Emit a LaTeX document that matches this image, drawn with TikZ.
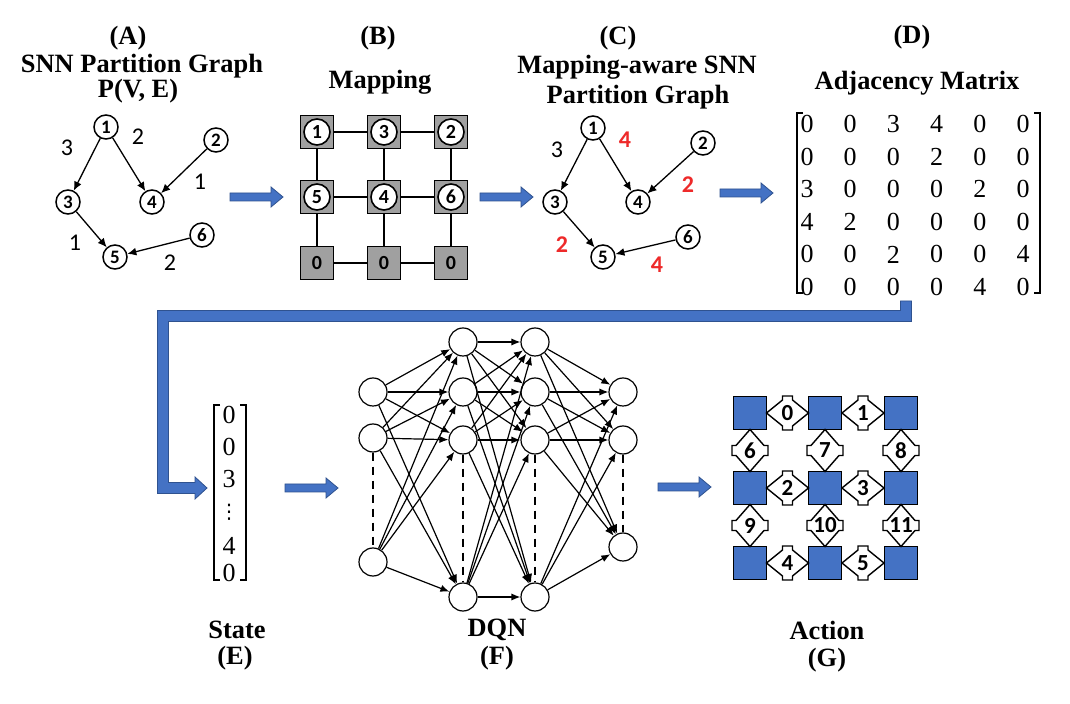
\documentclass[tikz,border=0pt]{standalone}
\usepackage{fontspec}
\setmainfont{Liberation Serif}
\newfontfamily\calib{Carlito}
\newfontfamily\djv{DejaVu Sans}
\usetikzlibrary{arrows.meta}
\definecolor{pblue}{HTML}{4472C4}
\definecolor{pblueD}{HTML}{2F528F}
\definecolor{gsq}{HTML}{A0A0A0}
\definecolor{rlabc}{HTML}{EE2A2A}
\begin{document}
\begin{tikzpicture}[x=0.5pt,y=-0.5pt,
  title/.style={font=\fontsize{13.2}{15}\selectfont\bfseries, inner sep=0},
  gnode/.style={circle,draw,line width=0.75pt,minimum size=12pt,inner sep=0,fill=white,font=\calib\bfseries\fontsize{9.5}{10}\selectfont},
  gedge/.style={-{Latex[length=4.5pt,width=4pt]},line width=0.65pt},
  elab/.style={font=\calib\fontsize{12}{12}\selectfont,inner sep=0},
  rlab/.style={font=\calib\bfseries\fontsize{12}{12}\selectfont,text=rlabc,inner sep=0},
  bsq/.style={rectangle,draw,fill=gsq,line width=0.8pt,minimum size=16.5pt,inner sep=0,font=\calib\bfseries\fontsize{10}{10}\selectfont},
  bcirc/.style={circle,draw,fill=white,line width=0.8pt,minimum size=13pt,inner sep=0,font=\calib\bfseries\fontsize{10}{10}\selectfont},
  blink/.style={line width=1.3pt},
  mnum/.style={font=\fontsize{13}{13}\selectfont,inner sep=0},
  brk/.style={line width=0.7pt},
  nn/.style={circle,draw,line width=0.6pt,minimum size=14pt,inner sep=0,fill=white},
  nnedge/.style={-{Latex[length=4.5pt,width=3.6pt]},line width=0.6pt},
  nndash/.style={line width=0.7pt,dash pattern=on 4pt off 3pt},
  gsqb/.style={rectangle,draw,fill=pblue,line width=0.8pt,minimum size=16.5pt,inner sep=0},
  dlab/.style={font=\calib\bfseries\fontsize{11.5}{11.5}\selectfont,inner sep=0},
  barrow/.pic={\fill[pblue,draw=pblueD,line width=0.4pt] (0,-4) -- (41,-4) -- (41,-10) -- (53,0) -- (41,10) -- (41,4) -- (0,4) -- cycle;},
  hdia/.pic={\draw[fill=white,line width=0.7pt] (-21,0) -- (-5,-13) -- (-5,-17) -- (5,-17) -- (5,-13) -- (21,0) -- (5,13) -- (5,17) -- (-5,17) -- (-5,13) -- cycle;},
  vdia/.pic={\draw[fill=white,line width=0.7pt] (0,-21) -- (-14,-5) -- (-18,-5) -- (-18,5) -- (-14,5) -- (0,21) -- (14,5) -- (18,5) -- (18,-5) -- (14,-5) -- cycle;}
]
\useasboundingbox (0,0) rectangle (1070,704);
\fill[white] (0,0) rectangle (1070,704);

% ---------- titles ----------
\node[title] (tA) at (128,38) {(A)};
\node[title] (tA1) at (142,66) {SNN Partition Graph};
\node[title] (tA2) at (138,91) {P(V, E)};
\node[title] (tB) at (378,38) {(B)};
\node[title] (tB1) at (380,82) {Mapping};
\node[title] (tC) at (618,38) {(C)};
\node[title] (tC1) at (637,67) {Mapping-aware SNN};
\node[title] (tC2) at (638,97) {Partition Graph};
\node[title] (tD) at (912,37) {(D)};
\node[title] (tD1) at (917,83) {Adjacency Matrix};
\node[title] (tE1) at (237,630) {State};
\node[title] (tE) at (235,658) {(E)};
\node[title] (tF1) at (497,630) {DQN};
\node[title] (tF) at (497,658) {(F)};
\node[title] (tG1) at (827,630) {Action};
\node[title] (tG) at (827,660) {(G)};

% ---------- (A) graph ----------
\node[gnode] (A1) at (106,127) {1};
\node[gnode] (A2) at (216,140) {2};
\node[gnode] (A3) at (68,202) {3};
\node[gnode] (A4) at (152,202) {4};
\node[gnode] (A5) at (115,257) {5};
\node[gnode] (A6) at (202,235) {6};
\draw[gedge] (A1) -- (A3);
\draw[gedge] (A1) -- (A4);
\draw[gedge] (A2) -- (A4);
\draw[gedge] (A3) -- (A5);
\draw[gedge] (A6) -- (A5);
\node[elab] (la1) at (67,148) {3};
\node[elab] (la2) at (138,137) {2};
\node[elab] (la3) at (200,182) {1};
\node[elab] (la4) at (75,243) {1};
\node[elab] (la5) at (170,263) {2};

% ---------- (B) mapping ----------
\foreach \c/\x in {0/317,1/384,2/451}
  \foreach \r/\y in {0/132,1/197,2/263}
    \node[bsq] (b\c\r) at (\x,\y) {};
\foreach \r in {0,1,2}{
  \draw[blink] (b0\r) -- (b1\r);
  \draw[blink] (b1\r) -- (b2\r);}
\foreach \c in {0,1,2}{
  \draw[blink] (b\c0) -- (b\c1);
  \draw[blink] (b\c1) -- (b\c2);}
\node[bcirc] (bc1) at (b00) {1};
\node[bcirc] (bc3) at (b10) {3};
\node[bcirc] (bc2) at (b20) {2};
\node[bcirc] (bc5) at (b01) {5};
\node[bcirc] (bc4) at (b11) {4};
\node[bcirc] (bc6) at (b21) {6};
\node[inner sep=0,font=\calib\bfseries\fontsize{10}{10}\selectfont] (bz0) at (b02) {0};
\node[inner sep=0,font=\calib\bfseries\fontsize{10}{10}\selectfont] (bz1) at (b12) {0};
\node[inner sep=0,font=\calib\bfseries\fontsize{10}{10}\selectfont] (bz2) at (b22) {0};

% ---------- (C) graph ----------
\node[gnode] (C1) at (593,128) {1};
\node[gnode] (C2) at (703,143) {2};
\node[gnode] (C3) at (555,202) {3};
\node[gnode] (C4) at (638,202) {4};
\node[gnode] (C5) at (603,257) {5};
\node[gnode] (C6) at (688,237) {6};
\draw[gedge] (C1) -- (C3);
\draw[gedge] (C1) -- (C4);
\draw[gedge] (C2) -- (C4);
\draw[gedge] (C3) -- (C5);
\draw[gedge] (C6) -- (C5);
\node[elab] (lc1) at (557,150) {3};
\node[rlab] (lc2) at (625,140) {4};
\node[rlab] (lc3) at (688,185) {2};
\node[rlab] (lc4) at (562,245) {2};
\node[rlab] (lc5) at (657,265) {4};

% ---------- (D) matrix ----------
\foreach \row [count=\i] in {{0,0,3,4,0,0},{0,0,0,2,0,0},{3,0,0,0,2,0},{4,2,0,0,0,0},{0,0,2,0,0,4},{0,0,0,0,4,0}}
  \foreach \v [count=\j] in \row
    \node[mnum] (m\i\j) at ({763.8+43.2*\j},{124+32.6*(\i-1)}) {\v};
\draw[brk] (803,113) -- (797,113) -- (797,293) -- (803,293);
\draw[brk] (1034,113) -- (1040,113) -- (1040,293) -- (1034,293);

% ---------- block arrows ----------
\pic at (230,197) {barrow};
\pic at (480,197) {barrow};
\pic at (720,193) {barrow};
\pic at (285,488) {barrow};
\pic at (658,487) {barrow};

% ---------- L connector ----------
\fill[pblue,draw=pblueD,line width=0.4pt] (900.5,301) -- (911.5,301) -- (911.5,321.5) -- (168.5,321.5) -- (168.5,482.5) -- (195,482.5) -- (195,477) -- (207,488) -- (195,499) -- (195,493.5) -- (157.5,493.5) -- (157.5,310.5) -- (900.5,310.5) -- cycle;

% ---------- (E) state ----------
\node[mnum] (s1) at (229,415) {0};
\node[mnum] (s2) at (229,447) {0};
\node[mnum] (s3) at (229,479) {3};
\node[inner sep=0,font=\djv\fontsize{10}{10}\selectfont] (s4) at (229,512) {⋮};
\node[mnum] (s5) at (229,546) {4};
\node[mnum] (s6) at (229,573) {0};
\draw[brk] (220,405) -- (214,405) -- (214,580) -- (220,580);
\draw[brk] (240,405) -- (246,405) -- (246,580) -- (240,580);

% ---------- (F) DQN ----------
\node[nn] (i1) at (373,392) {};
\node[nn] (i2) at (373,438) {};
\node[nn] (i3) at (373,562) {};
\foreach \k/\y in {1/342,2/392,3/440,4/597}{
  \node[nn] (a\k) at (463,\y) {};
  \node[nn] (b\k) at (535,\y) {};}
\node[nn] (o1) at (623,392) {};
\node[nn] (o2) at (623,440) {};
\node[nn] (o3) at (623,547) {};
\foreach \s in {1,2,3} \foreach \t in {1,...,4} \draw[nnedge] (i\s) -- (a\t);
\foreach \s in {1,...,4} \foreach \t in {1,...,4} \draw[nnedge] (a\s) -- (b\t);
\foreach \s in {1,...,4} \foreach \t in {1,2,3} \draw[nnedge] (b\s) -- (o\t);
\draw[nndash] (i2) -- (i3);
\draw[nndash] (a3) -- (a4);
\draw[nndash] (b3) -- (b4);
\draw[nndash] (o2) -- (o3);

% ---------- (G) action ----------
\foreach \c/\x in {1/750,2/825,3/901}
  \foreach \r/\y in {1/413,2/488,3/563}
    \node[gsqb] (g\c\r) at (\x,\y) {};
\foreach \x/\y/\l in {787.5/413/0,863/413/1,787.5/488/2,863/488/3,787.5/563/4,863/563/5}{
  \pic at (\x,\y) {hdia};
  \node[dlab] (d\l) at (\x,\y) {\l};}
\foreach \x/\y/\l in {750/450.5/6,825/450.5/7,901/450.5/8,750/525.5/9,825/525.5/10,901/525.5/11}{
  \pic at (\x,\y) {vdia};
  \node[dlab] (d\l) at (\x,\y) {\l};}
\end{tikzpicture}
\end{document}
